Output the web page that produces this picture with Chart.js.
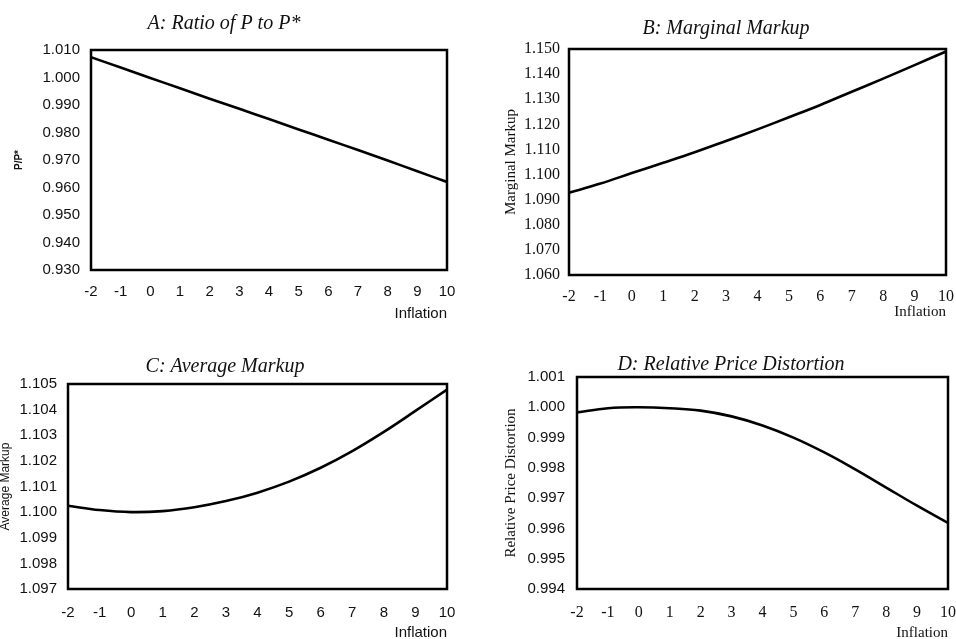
<!DOCTYPE html>
<html>
<head>
<meta charset="utf-8">
<script src="https://cdn.jsdelivr.net/npm/chart.js@4"></script>
<style>
html,body{margin:0;padding:0;background:#fff;}
body{width:956px;height:639px;position:relative;overflow:hidden;}
canvas{position:absolute;}
</style>
</head>
<body>
<canvas id="cA" width="478" height="320" style="left:0;top:0"></canvas>
<canvas id="cB" width="478" height="320" style="left:478px;top:0"></canvas>
<canvas id="cC" width="478" height="319" style="left:0;top:320px"></canvas>
<canvas id="cD" width="478" height="319" style="left:478px;top:320px"></canvas>
<script>
// Data
const inflation = [-2, -1, 0, 1, 2, 3, 4, 5, 6, 7, 8, 9, 10];
const ratioPPstar = [1.0074, 1.0036, 0.9998, 0.9961, 0.9923, 0.9886, 0.9849, 0.9811, 0.9774, 0.9736, 0.9698, 0.9659, 0.9620];
const marginalMarkup = [1.0928, 1.0964, 1.1006, 1.1047, 1.1089, 1.1134, 1.1180, 1.1228, 1.1277, 1.1330, 1.1382, 1.1436, 1.1490];
const averageMarkup = [1.10025, 1.10008, 1.10000, 1.10004, 1.10019, 1.10043, 1.10076, 1.10119, 1.10173, 1.10238, 1.10313, 1.10395, 1.10478];
const priceDistortion = [0.99983, 0.99997, 1.00000, 0.99997, 0.99989, 0.99970, 0.99940, 0.99900, 0.99851, 0.99795, 0.99735, 0.99675, 0.99618];

const titles = ["A: Ratio of P to P*", "B: Marginal Markup", "C: Average Markup", "D: Relative Price Distortion"];
const yTitles = ["P/P*", "Marginal Markup", "Average Markup", "Relative Price Distortion"];
const xTitle = "Inflation";
const yRanges = [[0.930, 1.010, 0.01], [1.060, 1.150, 0.01], [1.097, 1.105, 0.001], [0.994, 1.001, 0.001]];

const SANS = "'Liberation Sans', Arial, sans-serif";
const SERIF = "'Liberation Serif', 'Times New Roman', serif";

const boxPlugin = {
  id: 'box',
  afterDatasetsDraw(chart) {
    const a = chart.chartArea, ctx = chart.ctx;
    ctx.save();
    ctx.strokeStyle = '#000';
    ctx.lineWidth = 2.5;
    ctx.strokeRect(a.left, a.top, a.right - a.left, a.bottom - a.top);
    ctx.restore();
  }
};

function makeChart(id, values, idx, cfg) {
  const [ymin, ymax, ystep] = yRanges[idx];
  return new Chart(document.getElementById(id), {
    type: 'line',
    data: {
      datasets: [{
        data: inflation.map((x, i) => ({x: x, y: values[i]})),
        borderColor: '#000',
        borderWidth: 2.6,
        pointRadius: 0,
        tension: 0.4,
        fill: false
      }]
    },
    options: {
      responsive: false,
      animation: false,
      devicePixelRatio: 1,
      layout: {padding: cfg.layout},
      plugins: {
        legend: {display: false},
        tooltip: {enabled: false},
        title: {
          display: true,
          text: titles[idx],
          color: '#111',
          font: {family: SERIF, size: 20, style: 'italic', weight: 'normal', lineHeight: 1.2},
          padding: cfg.titlePad
        }
      },
      scales: {
        x: {
          type: 'linear',
          min: -2, max: 10,
          grid: {display: false, drawTicks: false},
          border: {display: false},
          ticks: {
            stepSize: 1,
            color: '#111',
            padding: cfg.xTickPad,
            maxRotation: 0,
            font: cfg.xFont,
            callback: v => String(v)
          },
          title: {
            display: true,
            text: xTitle,
            align: 'end',
            color: '#111',
            font: cfg.xTitleFont,
            padding: {top: 0, bottom: cfg.xTitleBottom}
          },
          afterFit: s => { s.height = cfg.xHeight; s.paddingLeft = 0; s.paddingRight = 0; }
        },
        y: {
          min: ymin, max: ymax,
          grid: {display: false, drawTicks: false},
          border: {display: false},
          ticks: {
            stepSize: ystep,
            color: '#111',
            padding: cfg.yTickPad,
            font: cfg.yFont,
            callback: v => Number(v).toFixed(3)
          },
          title: {
            display: true,
            text: yTitles[idx],
            color: '#111',
            font: cfg.yTitleFont,
            padding: {top: cfg.yTitleTop, bottom: 0}
          },
          afterFit: s => { s.width = cfg.yWidth; }
        }
      }
    },
    plugins: [boxPlugin]
  });
}

const sansTick = {family: SANS, size: 15, lineHeight: 1.2};
const serifTick = {family: SERIF, size: 16, lineHeight: 1.2};

// Panel A
makeChart('cA', ratioPPstar, 0, {
  layout: {left: 1, right: 31, top: 0, bottom: 0},
  titlePad: {top: 12, bottom: 14},
  xTickPad: 13, xFont: sansTick,
  xTitleFont: {family: SANS, size: 15, lineHeight: 1.2}, xTitleBottom: -3,
  xHeight: 50,
  yTickPad: 11, yFont: sansTick,
  yTitleFont: {family: SANS, size: 10, weight: 'bold', lineHeight: 1.2}, yTitleTop: 12,
  yWidth: 90
});

// Panel B
makeChart('cB', marginalMarkup, 1, {
  layout: {left: 28, right: 10, top: 0, bottom: 0},
  titlePad: {top: 17, bottom: 8},
  xTickPad: 12.4, xFont: serifTick,
  xTitleFont: {family: SERIF, size: 15, lineHeight: 1.2}, xTitleBottom: -1,
  xHeight: 45,
  yTickPad: 9, yFont: serifTick,
  yTitleFont: {family: SERIF, size: 15, lineHeight: 1.2}, yTitleTop: -4,
  yWidth: 63
});

// Panel C
makeChart('cC', averageMarkup, 2, {
  layout: {left: 3, right: 31, top: 0, bottom: 0},
  titlePad: {top: 35, bottom: 5},
  xTickPad: 15, xFont: sansTick,
  xTitleFont: {family: SANS, size: 15, lineHeight: 1.2}, xTitleBottom: -3,
  xHeight: 50,
  yTickPad: 11, yFont: sansTick,
  yTitleFont: {family: SANS, size: 12, lineHeight: 1.2}, yTitleTop: -5,
  yWidth: 65
});

// Panel D
makeChart('cD', priceDistortion, 3, {
  layout: {left: 36, right: 8, top: 0, bottom: 0},
  titlePad: {top: 33, bottom: 0},
  xTickPad: 14.4, xFont: serifTick,
  xTitleFont: {family: SERIF, size: 15, lineHeight: 1.2}, xTitleBottom: -3,
  xHeight: 50,
  yTickPad: 12, yFont: sansTick,
  yTitleFont: {family: SERIF, size: 15, lineHeight: 1.2}, yTitleTop: -12,
  yWidth: 63
});
</script>
</body>
</html>
